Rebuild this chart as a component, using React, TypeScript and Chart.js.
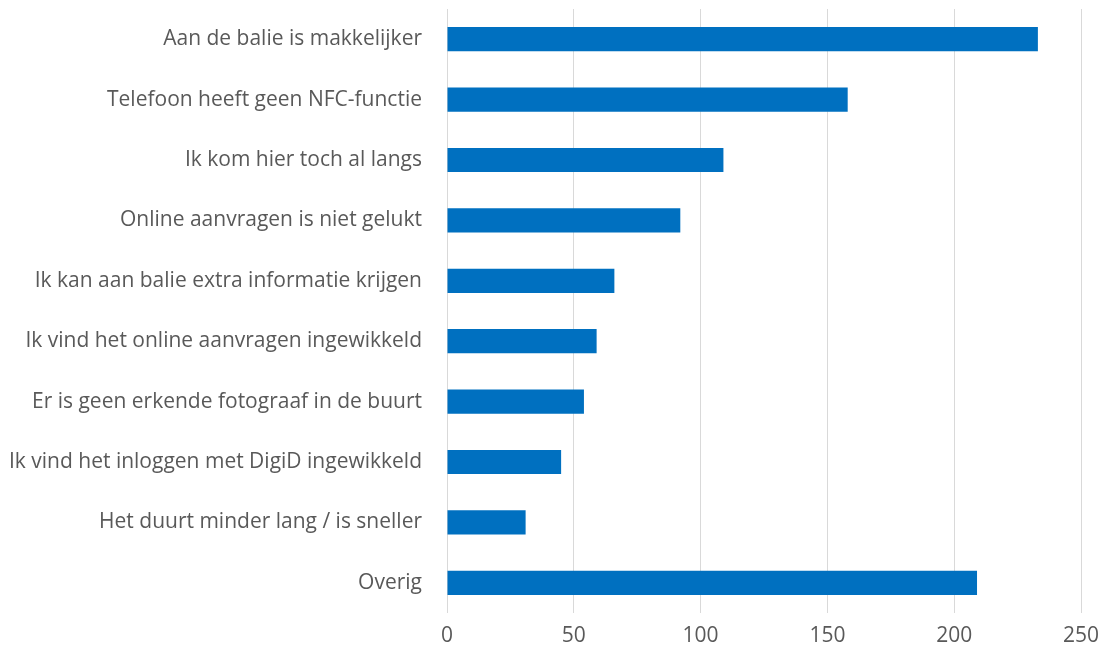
import React, { useEffect, useRef } from "react";
import { Chart, registerables } from "chart.js";

Chart.register(...registerables);

const categories = [
  "Aan de balie is makkelijker",
  "Telefoon heeft geen NFC-functie",
  "Ik kom hier toch al langs",
  "Online aanvragen is niet gelukt",
  "Ik kan aan balie extra informatie krijgen",
  "Ik vind het online aanvragen ingewikkeld",
  "Er is geen erkende fotograaf in de buurt",
  "Ik vind het inloggen met DigiD ingewikkeld",
  "Het duurt minder lang / is sneller",
  "Overig",
];
const values = [233, 158, 109, 92, 66, 59, 54, 45, 31, 209];
const xMin = 0;
const xMax = 250;
const xStep = 50;

export default function App() {
  const ref = useRef<HTMLCanvasElement | null>(null);

  useEffect(() => {
    document.body.style.margin = "0";
    const canvas = ref.current;
    if (!canvas) return;
    const font = { family: "'Open Sans', sans-serif", size: 21 };
    const chart = new Chart(canvas, {
      type: "bar",
      data: {
        labels: categories,
        datasets: [
          {
            data: values,
            backgroundColor: "#0070C0",
            borderWidth: 0,
            barPercentage: 0.4,
            categoryPercentage: 1,
          },
        ],
      },
      options: {
        indexAxis: "y",
        animation: false,
        responsive: false,
        maintainAspectRatio: false,
        layout: { padding: { top: 9, right: 23, left: 0, bottom: 0 } },
        plugins: { legend: { display: false }, tooltip: { enabled: false } },
        scales: {
          x: {
            min: xMin,
            max: xMax,
            ticks: { stepSize: xStep, color: "#595959", font, padding: 10 },
            grid: { color: "#d9d9d9", lineWidth: 1, drawTicks: false },
            border: { display: false },
            afterFit: (scale: any) => {
              scale.height = 46;
              scale.paddingLeft = 0;
              scale.paddingRight = 0;
            },
          },
          y: {
            ticks: { color: "#595959", font, padding: 25 },
            grid: { display: false, drawTicks: false },
            border: { display: false },
            afterFit: (scale: any) => {
              scale.width = 447;
              scale.paddingTop = 0;
              scale.paddingBottom = 0;
            },
          },
        },
      },
    });
    return () => chart.destroy();
  }, []);

  return (
    <div style={{ width: 1104, height: 659 }}>
      <canvas ref={ref} width={1104} height={659} style={{ display: "block" }} />
    </div>
  );
}
